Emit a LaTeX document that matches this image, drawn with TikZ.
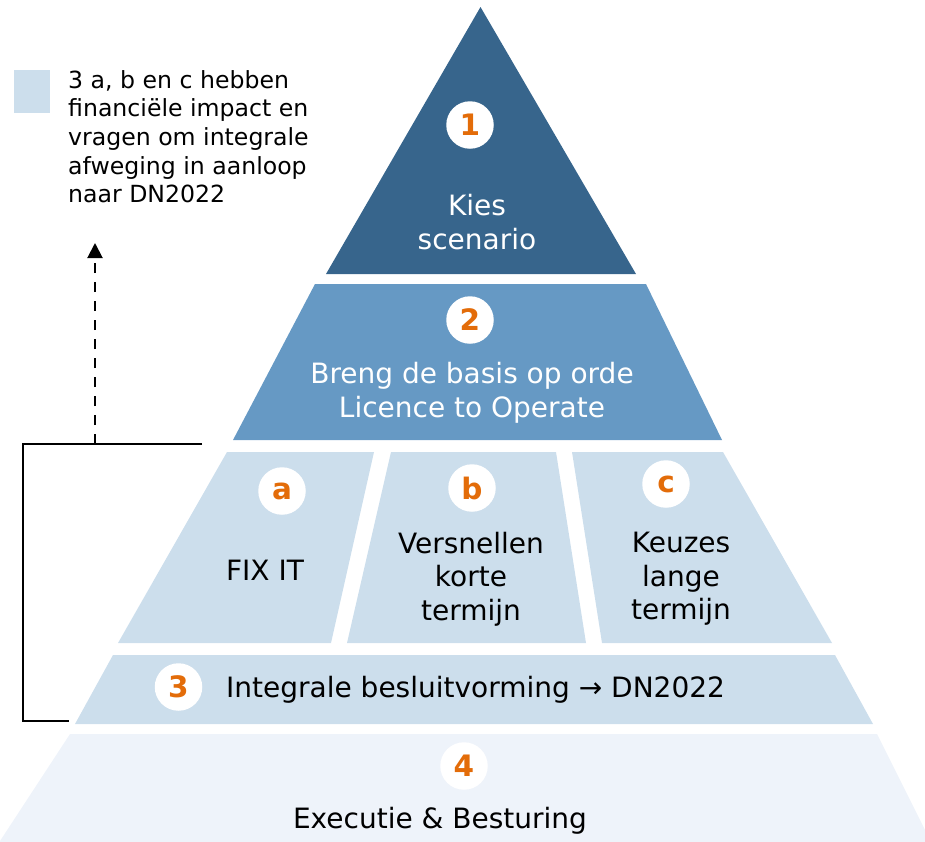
\documentclass[tikz,border=0pt]{standalone}
\usepackage{fontspec}
\setmainfont{DejaVu Sans}
\usetikzlibrary{arrows.meta}
\definecolor{tone}{HTML}{37658C}
\definecolor{ttwo}{HTML}{6699C4}
\definecolor{tthree}{HTML}{CCDEEC}
\definecolor{tfour}{HTML}{EEF3FA}
\definecolor{num}{HTML}{E36C09}
\begin{document}
\begin{tikzpicture}[x=1pt,y=-1pt,
  numc/.style={circle,fill=white,minimum size=47.5pt,inner sep=0pt,text=num,font=\fontsize{29.5}{30}\selectfont\bfseries},
  lbl/.style={align=center,inner sep=0pt,font=\fontsize{28}{33.5}\selectfont},
  legtxt/.style={align=left,anchor=north west,inner sep=0pt,font=\fontsize{23.6}{28.7}\selectfont},
  conn/.style={draw=black,line width=1.7pt}]
\useasboundingbox (0,0) rectangle (925,841);
% tiers
\fill[tone] (480.5,7) -- (636,274) -- (326,274) -- cycle;
\fill[ttwo] (315,284) -- (646,284) -- (722,440) -- (233,440) -- cycle;
\fill[tthree] (227,452) -- (374,452) -- (331,643) -- (118,643) -- cycle;
\fill[tthree] (391,452) -- (556,452) -- (586,643) -- (347,643) -- cycle;
\fill[tthree] (572,452) -- (723,452) -- (832,643) -- (602,643) -- cycle;
\fill[tthree] (113,655) -- (835,655) -- (873,724) -- (75,724) -- cycle;
\fill[tfour] (70,734) -- (877,734) -- (940,860) -- (0,860) -- (0,841) -- cycle;
% numbers
\node[numc] (n1) at (470,125) {1};
\node[numc] (n2) at (470,320) {2};
\node[numc] (na) at (282,491) {a};
\node[numc] (nb) at (472,488) {b};
\node[numc] (nc) at (666,484) {c};
\node[numc] (n3) at (178.5,687) {3};
\node[numc] (n4) at (464,766) {4};
% labels
\node[lbl,text=white] (l1) at (477,222) {Kies\\scenario};
\node[lbl,text=white] (l2) at (472,393) {Breng de basis op orde\\Licence to Operate};
\node[lbl] (la) at (265,570) {FIX IT};
\node[lbl] (lb) at (471,579) {Versnellen\\korte\\termijn};
\node[lbl] (lc) at (681,579) {Keuzes\\lange\\termijn};
\node[lbl,anchor=west] (l3) at (226,690) {Integrale besluitvorming → DN2022};
\node[lbl] (l4) at (440,821) {Executie \& Besturing};
% legend
\fill[tthree] (14,70) rectangle (50,113);
\node[legtxt] (leg) at (68,70) {3 a, b en c hebben\\financiële impact en\\vragen om integrale\\afweging in aanloop\\naar DN2022};
% connector
\coordinate (ctop) at (202,444);
\coordinate (ccorner1) at (23,444);
\coordinate (ccorner2) at (23,721);
\coordinate (cbot) at (69,721);
\coordinate (dstart) at (95,444);
\coordinate (dend) at (95,243);
\draw[conn] (ctop) -- (ccorner1) -- (ccorner2) -- (cbot);
\draw[conn,line width=2pt,dash pattern=on 10pt off 9pt,-{Triangle[length=15pt,width=15pt]}] (dstart) -- (dend);
\end{tikzpicture}
\end{document}
